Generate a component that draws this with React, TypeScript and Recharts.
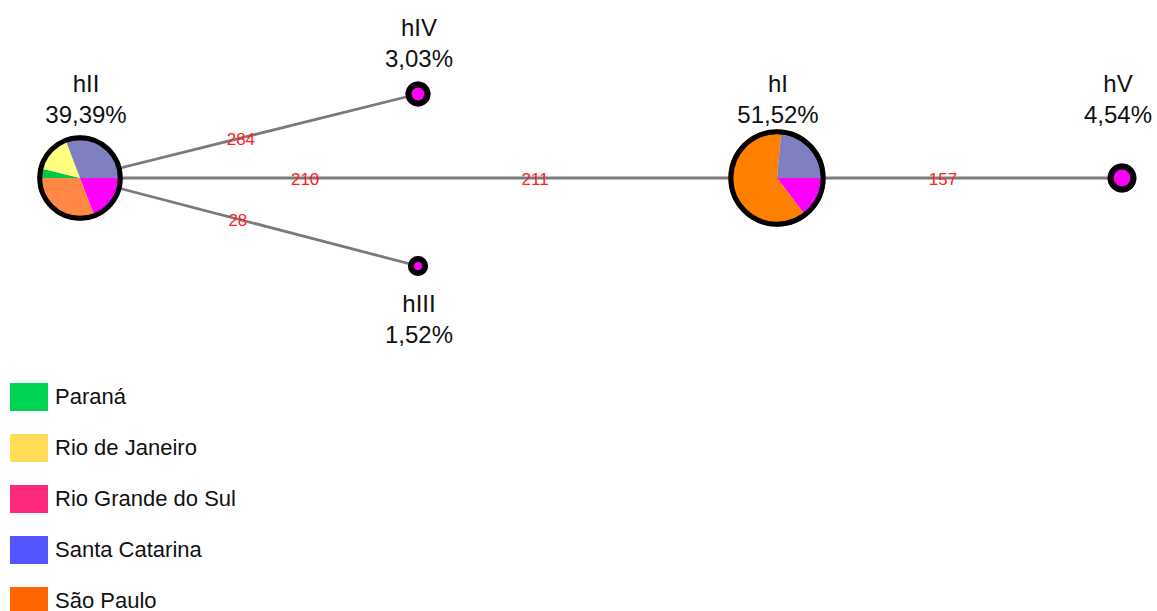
import { Scatter, ScatterChart, Sector, XAxis, YAxis } from 'recharts';

const W = 1157;
const H = 611;
const FONT = '"Liberation Sans", Arial, sans-serif';

// haplotypes and their layout in the network
const HAPLOS = ['hII', 'hI', 'hIV', 'hIII', 'hV'];
const HAPLO_X = [80, 777, 418, 418, 1122];
const HAPLO_Y = [178, 178, 94, 266, 178];
const HAPLO_PCT = [39.39, 51.52, 3.03, 1.52, 4.54];

const REGIONS = ['Paraná', 'Rio de Janeiro', 'Rio Grande do Sul', 'Santa Catarina', 'São Paulo'];

// sample counts per region, listed clockwise from 3 o'clock
const HAPLO_SLICES: [string, number][][] = [
  [['Rio Grande do Sul', 5], ['São Paulo', 8], ['Paraná', 1], ['Rio de Janeiro', 4], ['Santa Catarina', 8]],
  [['Rio Grande do Sul', 5], ['São Paulo', 21], ['Santa Catarina', 8]],
  [['Rio Grande do Sul', 2]],
  [['Rio Grande do Sul', 1]],
  [['Rio Grande do Sul', 3]],
];

// network links
const LINK_FROM = ['hII', 'hII', 'hII', 'hI'];
const LINK_TO = ['hIV', 'hIII', 'hI', 'hV'];

// mutation positions written along the links
const MUT_LABELS = ['284', '28', '210', '211', '157'];
const MUT_LINK = [0, 1, 2, 2, 3];
const MUT_AT = [0.476, 0.467, 0.323, 0.653, 0.481];

const PIE_FILL: Record<string, string> = {
  'Paraná': '#00C846',
  'Rio de Janeiro': '#FFFF80',
  'Rio Grande do Sul': '#FF00FF',
  'Santa Catarina': '#8080C0',
  'São Paulo': '#FF8000',
};
const PIE_SHADE: Record<string, Record<string, string>> = {
  hII: { 'São Paulo': '#FF8844' },
};
const LEGEND_FILL = ['#00D455', '#FFDD55', '#FF2A7F', '#5555FF', '#FF6600'];

// baseline of the percentage line relative to the node centre
const LABEL_DY: Record<string, number> = { hII: -55, hI: -55, hIV: -27, hIII: 77, hV: -55 };
const LABEL_DX: Record<string, number> = { hII: 6, hI: 1, hIV: 1, hIII: 1, hV: -4 };

const nodes = HAPLOS.map((name, i) => ({
  name,
  x: HAPLO_X[i],
  y: HAPLO_Y[i],
  pct: HAPLO_PCT[i],
  slices: HAPLO_SLICES[i],
}));
const byName = (n: string) => nodes.find((d) => d.name === n)!;

const mutations = MUT_LABELS.map((label, i) => {
  const a = byName(LINK_FROM[MUT_LINK[i]]);
  const b = byName(LINK_TO[MUT_LINK[i]]);
  const t = MUT_AT[i];
  return { label, x: a.x + (b.x - a.x) * t, y: a.y + (b.y - a.y) * t };
});

const fmtPct = (p: number) => `${p.toFixed(2).replace('.', ',')}%`;

function HaploNode(props: any) {
  const { cx, cy, payload } = props;
  const total = payload.slices.reduce((s: number, d: [string, number]) => s + d[1], 0);
  const single = payload.slices.length === 1;
  const r = single ? 4 + 6 * Math.sqrt(total) : 2 + 8 * Math.sqrt(total);
  const ring = single ? 6 : 5;
  let angle = 0;
  const shade = PIE_SHADE[payload.name] ?? {};
  const dx = LABEL_DX[payload.name];
  const dy = LABEL_DY[payload.name];
  return (
    <g>
      {single ? (
        <circle cx={cx} cy={cy} r={r} fill={PIE_FILL[payload.slices[0][0]]} />
      ) : (
        payload.slices.map(([region, n]: [string, number]) => {
          const span = (n / total) * 360;
          const start = angle;
          angle -= span;
          return (
            <Sector
              key={region}
              cx={cx}
              cy={cy}
              innerRadius={0}
              outerRadius={r}
              startAngle={start}
              endAngle={start - span}
              fill={shade[region] ?? PIE_FILL[region]}
            />
          );
        })
      )}
      <circle cx={cx} cy={cy} r={r - ring / 2} fill="none" stroke="#000" strokeWidth={ring} />
      <text x={cx + dx} y={cy + dy - 31} textAnchor="middle" fontSize={24} fontFamily={FONT} fill="#111">
        {payload.name}
      </text>
      <text x={cx + dx} y={cy + dy} textAnchor="middle" fontSize={24} fontFamily={FONT} fill="#111">
        {fmtPct(payload.pct)}
      </text>
    </g>
  );
}

function MutationLabel(props: any) {
  const { cx, cy, payload } = props;
  return (
    <text x={cx} y={cy} dy={7} textAnchor="middle" fontSize={17} fontFamily={FONT} fill="#FF2020">
      {payload.label}
    </text>
  );
}

export default function App() {
  return (
    <div style={{ position: 'absolute', left: 0, top: 0, width: W, height: H, background: '#fff' }}>
      <ScatterChart width={W} height={H} margin={{ top: 0, right: 0, bottom: 0, left: 0 }}>
        <XAxis type="number" dataKey="x" domain={[0, W]} hide />
        <YAxis type="number" dataKey="y" domain={[0, H]} reversed hide />
        {LINK_FROM.map((from, i) => (
          <Scatter
            key={`${from}-${LINK_TO[i]}`}
            data={[byName(from), byName(LINK_TO[i])]}
            line={{ stroke: '#7a7a7a', strokeWidth: 2.8 }}
            shape={() => <g />}
            isAnimationActive={false}
          />
        ))}
        <Scatter data={mutations} shape={MutationLabel} isAnimationActive={false} />
        <Scatter data={nodes} shape={HaploNode} isAnimationActive={false} />
      </ScatterChart>
      <div style={{ position: 'absolute', left: 10, top: 383, fontFamily: FONT, fontSize: 22, color: '#111' }}>
        {REGIONS.map((region, i) => (
          <div key={region} style={{ display: 'flex', alignItems: 'center', height: 28, marginBottom: 23 }}>
            <span style={{ width: 38, height: 28, background: LEGEND_FILL[i], marginRight: 7 }} />
            <span>{region}</span>
          </div>
        ))}
      </div>
    </div>
  );
}
